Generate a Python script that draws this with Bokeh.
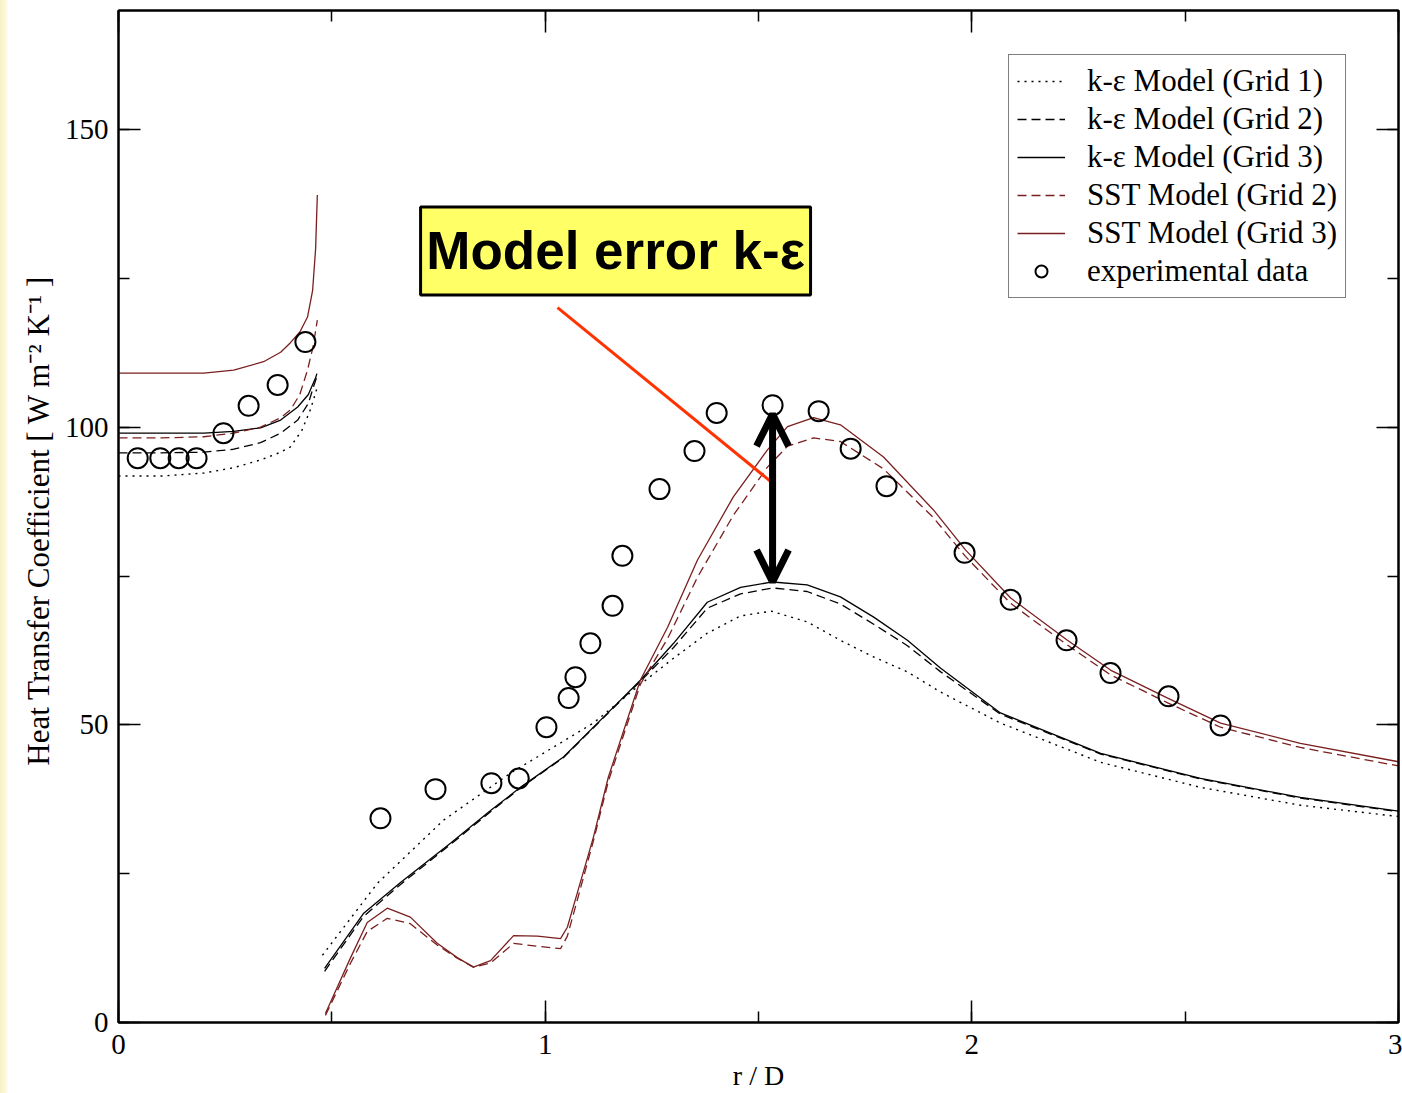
import math
from bokeh.plotting import figure
from bokeh.models import (Range1d, SingleIntervalTicker, LinearAxis, Legend, LegendItem,
                          Arrow, OpenHead, Div, CustomJSTickFormatter)
from bokeh.layouts import row
from bokeh.core.properties import value
from bokeh.embed import file_html
from bokeh.resources import INLINE

NAN = float("nan")

# ---------------- data ----------------
# k-epsilon, Grid 1 (dotted)
ke1_left_x = [0.0, 0.1, 0.2, 0.27, 0.333, 0.38, 0.403, 0.43, 0.45, 0.465]
ke1_left_y = [91.8, 91.8, 92.3, 93.2, 94.5, 95.8, 96.7, 99.5, 103.0, 106.5]
ke1_right_x = [0.478, 0.607, 0.762, 0.919, 1.113, 1.223, 1.301, 1.380, 1.458, 1.530, 1.614,
               1.692, 1.770, 1.849, 1.927, 2.067, 2.302, 2.536, 2.770, 3.0]
ke1_right_y = [11.3, 23.4, 34.0, 41.9, 50.3, 56.8, 61.2, 65.4, 68.3, 69.1, 67.3,
               64.2, 61.4, 58.9, 55.5, 50.3, 43.7, 39.5, 36.5, 34.6]

# k-epsilon, Grid 2 (dashed)
ke2_left_x = [0.0, 0.1, 0.2, 0.27, 0.333, 0.38, 0.42, 0.445, 0.457, 0.465]
ke2_left_y = [95.7, 95.7, 95.8, 96.3, 97.4, 99.0, 101.2, 104.0, 106.8, 108.5]
ke_right_x = [0.483, 0.574, 0.661, 0.778, 0.872, 0.942, 1.043, 1.148, 1.223, 1.301, 1.380,
              1.458, 1.533, 1.614, 1.692, 1.770, 1.849, 1.927, 2.067, 2.302, 2.536, 2.770, 3.0]
ke2_right_y = [8.6, 17.8, 23.2, 29.9, 35.4, 39.4, 44.5, 52.0, 57.3, 63.0, 69.6,
               72.0, 73.0, 72.4, 70.3, 66.9, 63.3, 58.9, 51.8, 45.1, 40.9, 37.7, 35.4]

# k-epsilon, Grid 3 (solid)
ke3_left_x = [0.0, 0.1, 0.2, 0.27, 0.333, 0.38, 0.42, 0.445, 0.462, 0.465]
ke3_left_y = [99.0, 99.0, 99.0, 99.3, 99.9, 101.2, 103.4, 105.5, 108.3, 109.0]
ke3_right_y = [9.1, 18.3, 23.5, 30.1, 35.6, 39.5, 44.6, 52.1, 57.5, 63.7, 70.6,
               73.1, 74.0, 73.5, 71.5, 68.1, 64.2, 59.5, 52.0, 45.2, 41.0, 37.8, 35.5]

# SST, Grid 2 (dashed, dark red)
sst2_left_x = [0.0, 0.1, 0.2, 0.27, 0.333, 0.38, 0.403, 0.425, 0.443, 0.456, 0.466]
sst2_left_y = [98.2, 98.2, 98.4, 99.0, 100.0, 101.6, 102.9, 105.5, 109.6, 113.5, 118.0]
sst_right_x = [0.485, 0.544, 0.583, 0.630, 0.684, 0.747, 0.794, 0.832, 0.872, 0.926, 0.982,
               1.036, 1.052, 1.075, 1.113, 1.148, 1.223, 1.287, 1.357, 1.441, 1.521, 1.568,
               1.629, 1.692, 1.793, 1.910, 1.985, 2.091, 2.224, 2.325, 2.459, 2.583, 2.770, 3.0]
sst2_right_y = [1.2, 10.0, 15.3, 17.5, 16.6, 13.0, 10.8, 9.3, 10.0, 13.3, 12.8,
                12.4, 14.5, 20.5, 30.5, 40.5, 56.8, 64.5, 74.8, 85.2, 93.3, 96.8,
                98.2, 97.6, 93.0, 84.8, 78.3, 70.4, 63.4, 58.4, 53.7, 49.6, 46.2, 43.1]

# SST, Grid 3 (solid, dark red)
sst3_left_x = [0.0, 0.1, 0.2, 0.27, 0.34, 0.38, 0.403, 0.425, 0.443, 0.455, 0.462, 0.466]
sst3_left_y = [109.1, 109.1, 109.1, 109.6, 111.0, 112.6, 114.2, 116.0, 118.5, 123.0, 130.0, 139.0]
sst3_right_y = [1.5, 10.9, 16.8, 19.2, 17.7, 13.3, 10.9, 9.3, 10.4, 14.6, 14.5,
                14.1, 16.0, 21.7, 31.1, 41.2, 57.5, 66.4, 77.7, 88.3, 96.2, 100.1,
                101.6, 100.4, 95.0, 86.1, 79.4, 71.3, 64.2, 59.2, 54.5, 50.3, 46.9, 43.8]

# experimental data
exp_x = [0.045, 0.098, 0.141, 0.183, 0.246, 0.305, 0.373, 0.438,
         0.614, 0.743, 0.874, 0.938, 1.003, 1.055, 1.071, 1.106, 1.158, 1.181,
         1.268, 1.350, 1.402, 1.533, 1.641, 1.716, 1.800, 1.983, 2.091, 2.222,
         2.325, 2.461, 2.583]
exp_y = [94.8, 94.8, 94.8, 94.8, 99.0, 103.6, 107.1, 114.3,
         34.3, 39.2, 40.2, 41.0, 49.6, 54.5, 58.0, 63.7, 70.0, 78.4,
         89.6, 96.0, 102.4, 103.7, 102.7, 96.4, 90.1, 78.9, 71.0, 64.2,
         58.7, 54.8, 49.9]

legend_labels = ["k-\u03b5 Model (Grid 1)", "k-\u03b5 Model (Grid 2)", "k-\u03b5 Model (Grid 3)",
                 "SST Model (Grid 2)", "SST Model (Grid 3)", "experimental data"]

x_ticks_interval = 1
y_ticks_interval = 50

# annotation (callout box, pointer line, double arrow)
callout_text = "Model error k-\u03b5"
callout_box = dict(left=0.708, right=1.622, bottom=122.2, top=137.0)
callout_text_pos = (1.165, 129.6)
pointer_line = dict(x0=1.029, y0=120.1, x1=1.535, y1=90.5)
arrow_x = 1.533
arrow_top = 102.2
arrow_bottom = 74.0


def joined(ax, ay, bx, by):
    return list(ax) + [NAN] + list(bx), list(ay) + [NAN] + list(by)


SERIF = "Liberation Serif"
SST_COLOR = "#7a1f1f"

p = figure(width=1394, height=1093, x_range=Range1d(0, 3), y_range=Range1d(0, 170),
           output_backend="svg", toolbar_location=None,
           min_border_left=110, min_border_right=4, min_border_top=10, min_border_bottom=71,
           background_fill_color="white", border_fill_color="white", margin=0)
p.xgrid.visible = False
p.ygrid.visible = False
p.outline_line_color = "black"
p.outline_line_width = 2

bottom_ax = p.below[0]
left_ax = p.left[0]
bottom_ax.ticker = SingleIntervalTicker(interval=x_ticks_interval, num_minor_ticks=2)
left_ax.ticker = SingleIntervalTicker(interval=y_ticks_interval, num_minor_ticks=2)

top_ax = LinearAxis(ticker=SingleIntervalTicker(interval=x_ticks_interval, num_minor_ticks=2),
                    formatter=CustomJSTickFormatter(code="return ''"))
right_ax = LinearAxis(ticker=SingleIntervalTicker(interval=y_ticks_interval, num_minor_ticks=2),
                      formatter=CustomJSTickFormatter(code="return ''"))
p.add_layout(top_ax, "above")
p.add_layout(right_ax, "right")

for ax in [bottom_ax, left_ax, top_ax, right_ax]:
    ax.major_tick_in = 22
    ax.major_tick_out = 0
    ax.minor_tick_in = 11
    ax.minor_tick_out = 0
    ax.major_tick_line_color = "black"
    ax.minor_tick_line_color = "black"
    ax.major_tick_line_width = 1.5
    ax.minor_tick_line_width = 1.5
    ax.axis_line_color = "black"
    ax.axis_line_width = 2
    ax.major_label_text_font = SERIF
    ax.major_label_text_font_size = "29px"
    ax.major_label_text_color = "black"

for ax in [top_ax, right_ax]:
    ax.major_label_text_font_size = "1px"
    ax.major_label_standoff = 0

bottom_ax.major_label_standoff = 12
left_ax.major_label_standoff = 10
bottom_ax.axis_label = "r / D"
left_ax.axis_label = "Heat Transfer Coefficient  [ W m\u207b\u00b2 K\u207b\u00b9 ]"
for ax in [bottom_ax, left_ax]:
    ax.axis_label_text_font = SERIF
    ax.axis_label_text_font_style = "normal"
    ax.axis_label_text_color = "black"
bottom_ax.axis_label_text_font_size = "28px"
left_ax.axis_label_text_font_size = "31px"
bottom_ax.axis_label_standoff = 3
left_ax.axis_label_standoff = 6

# ---------------- series ----------------
x1, y1 = joined(ke1_left_x, ke1_left_y, ke1_right_x, ke1_right_y)
x2, y2 = joined(ke2_left_x, ke2_left_y, ke_right_x, ke2_right_y)
x3, y3 = joined(ke3_left_x, ke3_left_y, ke_right_x, ke3_right_y)
x4, y4 = joined(sst2_left_x, sst2_left_y, sst_right_x, sst2_right_y)
x5, y5 = joined(sst3_left_x, sst3_left_y, sst_right_x, sst3_right_y)

r1 = p.line(x1, y1, line_color="black", line_width=1.4, line_dash="2 5")
r2 = p.line(x2, y2, line_color="black", line_width=1.3, line_dash="9 5")
r3 = p.line(x3, y3, line_color="black", line_width=1.3)
r4 = p.line(x4, y4, line_color=SST_COLOR, line_width=1.3, line_dash="9 5")
r5 = p.line(x5, y5, line_color=SST_COLOR, line_width=1.3)
r6 = p.scatter(exp_x, exp_y, marker="circle", size=20, line_color="black", line_width=2,
               fill_color=None)

# ---------------- callout ----------------
p.quad(left=[callout_box["left"]], right=[callout_box["right"]],
       bottom=[callout_box["bottom"]], top=[callout_box["top"]],
       fill_color="#ffff66", line_color="black", line_width=3)
p.text(x=[callout_text_pos[0]], y=[callout_text_pos[1]], text=[callout_text],
       text_font=value("Liberation Sans"), text_font_style="bold", text_font_size="53px",
       text_align="center", text_baseline="middle", text_color="black")
p.segment(x0=[pointer_line["x0"]], y0=[pointer_line["y0"]],
          x1=[pointer_line["x1"]], y1=[pointer_line["y1"]],
          line_color="#ff3300", line_width=3)
p.add_layout(Arrow(x_start=arrow_x, y_start=arrow_bottom, x_end=arrow_x, y_end=arrow_top,
                   line_color="black", line_width=7,
                   start=OpenHead(size=32, line_width=7, line_color="black"),
                   end=OpenHead(size=32, line_width=7, line_color="black")))

# ---------------- legend ----------------
legend = Legend(items=[LegendItem(label=lab, renderers=[r])
                       for lab, r in zip(legend_labels, [r1, r2, r3, r4, r5, r6])],
                location=(890, 724))
legend.label_text_font = SERIF
legend.label_text_font_size = "31px"
legend.label_text_color = "black"
legend.glyph_width = 48
legend.glyph_height = 30
legend.label_height = 30
legend.spacing = 2
legend.padding = 8
legend.margin = 0
legend.label_standoff = 22
legend.border_line_color = "black"
legend.border_line_width = 1.5
legend.background_fill_color = "white"
legend.background_fill_alpha = 1
p.add_layout(legend)

strip = Div(text="", width=8, height=1093, margin=0,
            styles={"background": "linear-gradient(to right, #f8f1c6 0%, #fbf6d8 60%, #fffdf3 100%)"})

layout = row(strip, p, spacing=0)
open("out.html", "w").write(file_html(layout, INLINE))
